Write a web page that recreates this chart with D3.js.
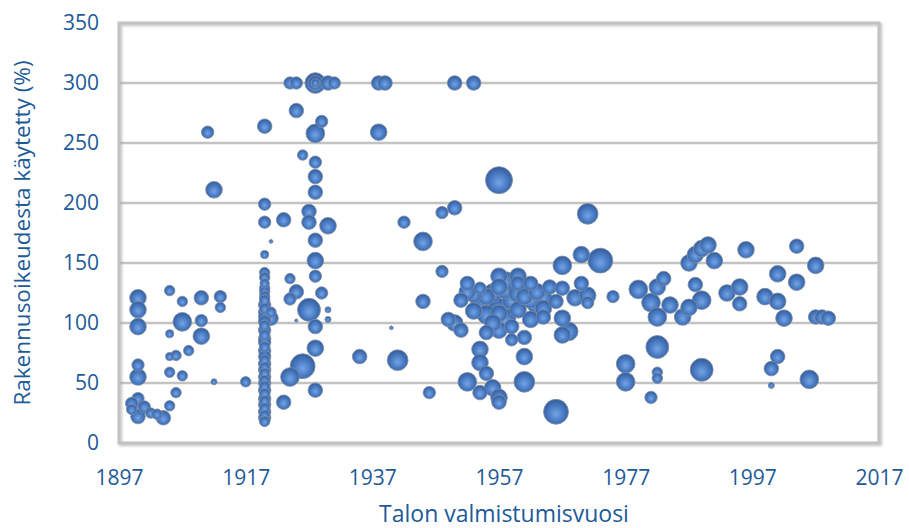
<!DOCTYPE html>
<html>
<head>
<meta charset="utf-8">
<script src="https://cdn.jsdelivr.net/npm/d3@7"></script>
<style>
  html, body { margin: 0; padding: 0; background: #fff; }
  svg { display: block; }
  text { font-family: "Open Sans", "Noto Sans", sans-serif; }
</style>
</head>
<body>
<svg id="chart" width="909" height="528"></svg>
<script>
// ---- Data ----
const xTicks = [1897, 1917, 1937, 1957, 1977, 1997, 2017];
const yTicks = [0, 50, 100, 150, 200, 250, 300, 350];
const xTitle = "Talon valmistumisvuosi";
const yTitle = "Rakennusoikeudesta käytetty (%)";

// year of completion
const years = [
  1900,1900,1900,1900,1900,1900,1900,1900,1899,1902,1904,1905,1906,1905,1907,1905,1906,1908,1905,1907,
  1910,1910,1910,1907,1905,1913,1913,1912,1917,1911,1912,
  1920,1920,1920,1921,1920,1920,1920,1920,1920,1920,1920,1920,1920,1920,1920,1920,1920,1920,1920,1920,
  1920,1920,1920,1920,1920,1920,1920,1920,1920,1920,1920,1920,1920,1920,1920,1920,1920,1920,1920,1920,
  1920,1920,1920,1920,1921,1921,
  1924,1925,1928,1928,1928,1930,1931,1925,1929,1928,1926,1928,1928,1928,1923,1927,1927,1930,1928,1928,
  1928,1929,1924,1925,1924,1927,1930,1930,1925,1928,1928,1926,1924,1928,1923,
  1935,1940,1941,1938,1939,1938,1942,1945,1945,1946,1948,1948,1950,1950,1953,1957,1971,
  1949,1950,1951,1951,1952,1952,1954,1954,1953,1955,1955,1954,1954,1955,1954,1956,1957,1957,1957,1957,
  1957,1957,1957,1958,1959,1959,1960,1960,1960,1961,1961,1961,1961,1962,1962,1963,1964,1964,1965,1966,
  1967,1967,1967,1968,1966,1967,1970,1970,1969,1971,1971,1973,1975,
  1956,1958,1960,1962,1953,1956,1959,1955,1952,1958,1963,1964,
  1979,1983,1982,1981,1982,1984,1986,1987,1989,1988,1987,1988,1989,1990,1991,1996,1993,1995,1995,1982,
  1977,1977,1982,1982,1981,1989,2004,2007,2001,2004,1999,2001,2002,2007,2008,2009,2001,2000,2000,2006,
  1899,1901,1903
];
// share of building right used (%)
const values = [
  121,111,97,65,55,37,28,22,28,25,21,31,42,59,56,72,73,77,91,101,
  89,102,121,118,127,122,113,51,51,259,211,
  264,199,184,168,157,142,138,133,129,126,122,119,115,112,109,105,101,98,94,90,
  87,84,80,77,72,69,66,63,61,58,55,52,50,47,44,41,37,35,32,29,
  26,23,21,18,104,109,
  300,300,300,300,300,300,300,277,268,258,240,234,222,209,186,193,184,181,169,152,
  139,125,137,126,120,111,111,103,102,97,79,64,55,44,34,
  72,96,69,300,300,259,184,168,118,42,143,192,196,300,300,219,191,
  103,100,94,119,133,51,129,113,110,122,92,78,67,58,42,46,38,34,139,130,
  112,108,94,103,119,86,139,133,111,122,88,72,51,133,103,115,122,105,130,118,
  129,104,90,93,26,148,157,133,121,123,117,152,122,
  125,128,125,120,124,100,97,107,126,135,126,112,
  128,137,130,117,105,115,105,113,119,132,150,157,162,165,152,161,125,130,116,80,
  66,51,59,54,38,61,164,148,141,134,122,118,104,105,105,104,72,62,48,53,
  33,30,24
];
// bubble size (relative floor area)
const sizes = [
  38,38,38,21,38,21,29,29,15,15,29,15,15,15,15,9,15,15,9,48,
  38,21,29,15,15,21,15,5,15,21,38,
  29,21,21,2,9,15,15,12,15,15,15,15,21,15,21,21,21,15,21,15,
  21,21,15,21,21,15,21,15,21,15,21,15,21,15,21,15,21,15,21,15,
  21,15,21,15,29,15,
  21,21,59,29,9,29,21,29,21,48,15,21,29,29,29,29,29,38,29,38,
  21,21,15,29,21,72,5,5,1.5,29,38,85,48,29,29,
  29,2,59,29,29,38,21,48,29,21,21,21,29,29,29,100,59,
  29,38,29,29,29,48,21,59,38,38,29,38,38,29,29,38,38,29,38,38,
  59,38,38,59,48,21,38,29,38,38,29,38,59,29,38,48,38,29,29,29,
  29,38,38,48,85,48,38,29,38,38,21,85,21,
  48,48,48,48,38,38,29,48,38,48,38,38,
  48,29,38,48,48,38,38,38,48,29,38,38,38,38,38,38,38,38,29,72,
  48,48,15,15,21,72,29,38,38,38,38,38,38,29,29,29,29,29,5,48,
  21,21,15
];

const data = years.map((y, i) => ({ year: y, value: values[i], size: sizes[i] }));

// ---- Layout ----
const svg = d3.select("#chart");
const margin = { left: 119, right: 30, top: 23, bottom: 85 };
const W = 909, H = 528;
const x = d3.scaleLinear().domain([1897, 2017]).range([margin.left, W - margin.right]);
const y = d3.scaleLinear().domain([0, 350]).range([H - margin.bottom, margin.top]);
const r = d3.scaleSqrt().domain([0, 100]).range([0, 13.5]);

const textColor = "#1d5a98";
const gridColor = "#c3c3c3";

const defs = svg.append("defs");
const grad = defs.append("radialGradient").attr("id", "ball")
  .attr("cx", "50%").attr("cy", "55%").attr("r", "55%").attr("fx", "50%").attr("fy", "60%");
grad.append("stop").attr("offset", "0%").attr("stop-color", "#74a4e4");
grad.append("stop").attr("offset", "55%").attr("stop-color", "#4a7cc4");
grad.append("stop").attr("offset", "90%").attr("stop-color", "#3762a3");
grad.append("stop").attr("offset", "100%").attr("stop-color", "#2e5287");

const shadow = defs.append("filter").attr("id", "shadow").attr("x", "-5%").attr("y", "-5%").attr("width", "110%").attr("height", "110%");
shadow.append("feDropShadow").attr("dx", 1.5).attr("dy", 1.5).attr("stdDeviation", 1.2).attr("flood-color", "#999").attr("flood-opacity", 0.6);

// Gridlines (horizontal)
svg.append("g")
  .selectAll("line")
  .data(yTicks.filter(t => t > 0 && t < 350))
  .join("line")
  .attr("x1", x.range()[0]).attr("x2", x.range()[1])
  .attr("y1", d => y(d)).attr("y2", d => y(d))
  .attr("stroke", gridColor).attr("stroke-width", 2.5);

// Plot border
svg.append("rect")
  .attr("x", x.range()[0]).attr("y", y(350))
  .attr("width", x.range()[1] - x.range()[0])
  .attr("height", y(0) - y(350))
  .attr("fill", "none")
  .attr("stroke", gridColor).attr("stroke-width", 3)
  .attr("filter", "url(#shadow)");

// Axes via d3 axis generators (labels only)
const yAxis = svg.append("g")
  .attr("transform", `translate(${x.range()[0]},0)`)
  .call(d3.axisLeft(y).tickValues(yTicks).tickSize(0).tickPadding(20));
yAxis.select(".domain").remove();
yAxis.selectAll("text").attr("fill", textColor).attr("font-size", 21)
  .attr("font-family", '"Open Sans", sans-serif');

const xAxis = svg.append("g")
  .attr("transform", `translate(0,${y(0)})`)
  .call(d3.axisBottom(x).tickValues(xTicks).tickFormat(d3.format("d")).tickSize(0).tickPadding(27));
xAxis.select(".domain").remove();
xAxis.selectAll("text").attr("fill", textColor).attr("font-size", 21)
  .attr("font-family", '"Open Sans", sans-serif');

// Bubbles
svg.append("g")
  .selectAll("circle")
  .data(data.slice().sort((a, b) => b.size - a.size))
  .join("circle")
  .attr("cx", d => x(d.year))
  .attr("cy", d => y(d.value))
  .attr("r", d => r(d.size))
  .attr("fill", "url(#ball)")
  .attr("stroke", "#7f8ea6")
  .attr("stroke-opacity", 0.85)
  .attr("stroke-width", 1);

// Axis titles
svg.append("text")
  .attr("x", (x.range()[0] + x.range()[1]) / 2 + 5)
  .attr("y", 522)
  .attr("text-anchor", "middle")
  .attr("fill", textColor)
  .attr("font-size", 23)
  .text(xTitle);

svg.append("text")
  .attr("transform", `translate(30,${(y(0) + y(350)) / 2}) rotate(-90)`)
  .attr("text-anchor", "middle")
  .attr("fill", textColor)
  .attr("font-size", 22.5)
  .text(yTitle);
</script>
</body>
</html>
